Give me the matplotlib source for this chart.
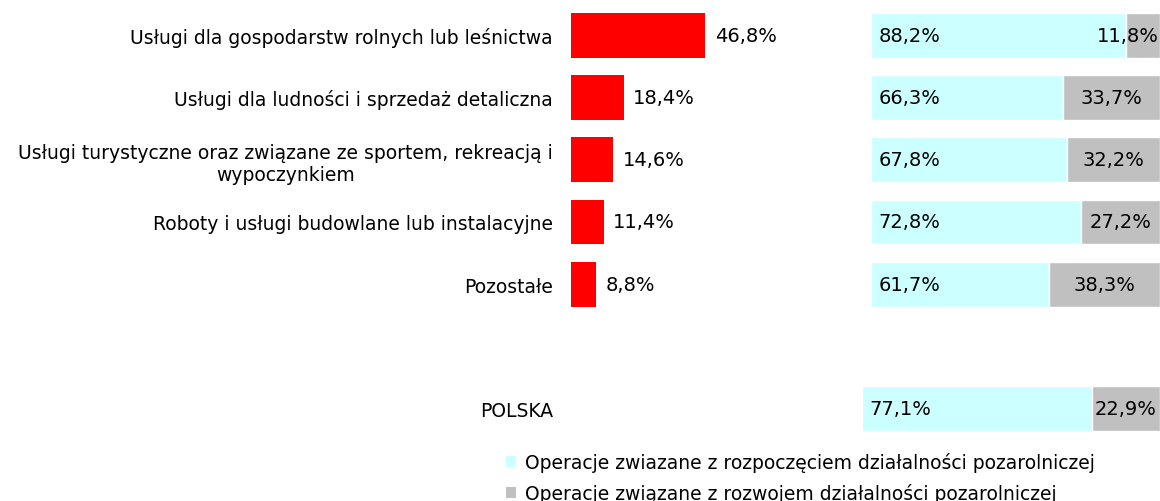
import matplotlib
matplotlib.use('Agg')
import matplotlib.pyplot as plt
from matplotlib.patches import Patch

categories = [
    'Usługi dla gospodarstw rolnych lub leśnictwa',
    'Usługi dla ludności i sprzedaż detaliczna',
    'Usługi turystyczne oraz związane ze sportem, rekreacją i\nwypoczynkiem',
    'Roboty i usługi budowlane lub instalacyjne',
    'Pozostałe',
]
share = [46.8, 18.4, 14.6, 11.4, 8.8]
start_ops = [88.2, 66.3, 67.8, 72.8, 61.7]
develop_ops = [11.8, 33.7, 32.2, 27.2, 38.3]
total_label = 'POLSKA'
total_start = 77.1
total_develop = 22.9
legend_labels = ['Operacje zwiazane z rozpoczęciem działalności pozarolniczej',
                 'Operacje związane z rozwojem działalności pozarolniczej']

RED = '#ff0000'
CYAN = '#ccffff'
GRAY = '#c0c0c0'
FS = 13.5
FS_NUM = 14

def fmt(v):
    return f'{v:.1f}%'.replace('.', ',')

W, H = 1160, 502
fig = plt.figure(figsize=(W / 100, H / 100), dpi=100)

bottom = (H - 441) / H
height = 436 / H
total_pos = len(categories) + 1
ylim = (total_pos + 0.5, -0.5)
bar_h = 0.72

ax_red = fig.add_axes([571 / W, bottom, 286 / W, height])
ax_stk = fig.add_axes([871 / W, bottom, 289 / W, height])
ax_pl = fig.add_axes([862 / W, bottom, 298 / W, height])

ypos = list(range(len(categories)))

ax_red.barh(ypos, share, height=bar_h, color=RED)
for y, v in zip(ypos, share):
    ax_red.annotate(fmt(v), (v, y), xytext=(7, 0), textcoords='offset points',
                    va='center', ha='left', fontsize=FS_NUM)
ax_red.set_xlim(0, 100)
ax_red.set_ylim(*ylim)
ax_red.set_yticks(ypos + [total_pos])
ax_red.set_yticklabels(categories + [total_label], fontsize=FS, multialignment='center')
ax_red.tick_params(axis='y', length=0, pad=13)
ax_red.set_xticks([])

def stacked(ax, ys, a, b):
    ax.barh(ys, a, height=bar_h, color=CYAN, edgecolor='white', linewidth=1)
    ax.barh(ys, b, left=a, height=bar_h, color=GRAY, edgecolor='white', linewidth=1)
    for y, va_, vb in zip(ys, a, b):
        ax.text(2.5, y, fmt(va_), va='center', ha='left', fontsize=FS_NUM)
        if vb < 15:
            ax.text(99.5, y, fmt(vb), va='center', ha='right', fontsize=FS_NUM)
        else:
            ax.text(va_ + vb / 2, y, fmt(vb), va='center', ha='center', fontsize=FS_NUM)
    ax.set_xlim(0, 100)
    ax.set_ylim(*ylim)
    ax.set_xticks([])
    ax.set_yticks([])

stacked(ax_stk, ypos, start_ops, develop_ops)
stacked(ax_pl, [total_pos], [total_start], [total_develop])

for ax in (ax_red, ax_stk, ax_pl):
    for s in ax.spines.values():
        s.set_visible(False)
    ax.patch.set_alpha(0)

handles = [Patch(facecolor=CYAN), Patch(facecolor=GRAY)]
fig.legend(handles, legend_labels, loc='upper left', bbox_to_anchor=(506 / W, 1 - 453 / H),
           frameon=False, fontsize=FS, handlelength=0.55, handleheight=0.55,
           handletextpad=0.45, labelspacing=0.6, borderpad=0, borderaxespad=0)

fig.savefig('out.png', dpi=100)
